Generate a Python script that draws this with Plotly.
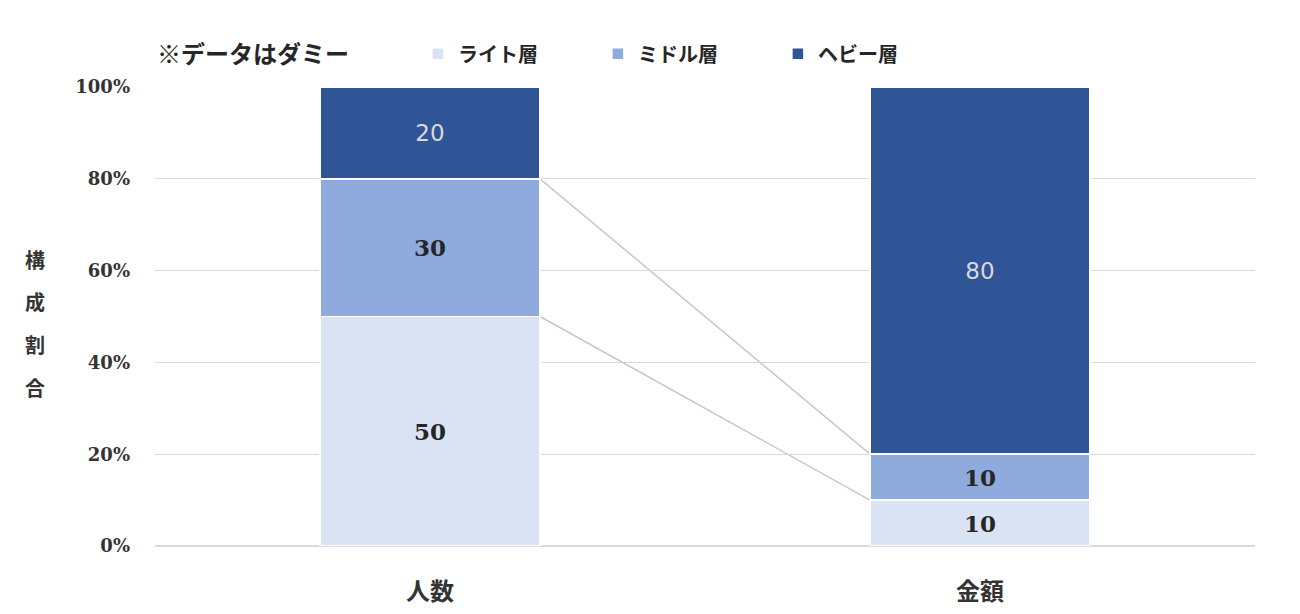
import plotly.graph_objects as go
import numpy as np

categories = ["人数", "金額"]
series_names = ["ライト層", "ミドル層", "ヘビー層"]
light = [50, 10]
middle = [30, 10]
heavy = [20, 80]
colors = ["#DAE3F3", "#8FAADC", "#2F5597"]
label_colors = ["#262626", "#262626", "#D9D9D9"]
y_ticks = [0, 20, 40, 60, 80, 100]
y_ticktext = ["0%", "20%", "40%", "60%", "80%", "100%"]
y_title_chars = ["構", "成", "割", "合"]

series = [light, middle, heavy]
BAR_W = 0.4

fig = go.Figure()
for name, vals, col, lc in zip(series_names, series, colors, label_colors):
    dark_text = lc != "#D9D9D9"
    fig.add_trace(go.Bar(
        x=categories, y=vals, name=name,
        marker=dict(color=col, line=dict(color="white", width=1.5)),
        width=BAR_W,
        text=[f"<b>{v}</b>" if dark_text else str(v) for v in vals],
        textposition="inside", insidetextanchor="middle",
        textfont=dict(size=23 if dark_text else 23, color=lc,
                      family="DejaVu Serif" if dark_text else "DejaVu Sans"),
        hoverinfo="skip",
    ))

# connector lines between the stacked segment tops
cum = np.cumsum(np.array(series), axis=0)
for level in cum[:-1]:
    fig.add_shape(type="line", xref="x", yref="y",
                  x0=0 + BAR_W / 2, y0=float(level[0]),
                  x1=1 - BAR_W / 2, y1=float(level[1]),
                  line=dict(color="#C8C8C8", width=1.5), layer="below")

annotations = [
    dict(text="<b>※データはダミー</b>", xref="paper", yref="paper",
         x=0.0, y=1.075, xanchor="left", yanchor="middle", showarrow=False,
         font=dict(size=24, color="#262626", family="Noto Sans CJK JP")),
]
for i, ch in enumerate(y_title_chars):
    annotations.append(dict(
        text=f"<b>{ch}</b>", xref="paper", yref="paper",
        x=-0.109, y=0.625 - i * 0.093, xanchor="center", yanchor="middle", showarrow=False,
        font=dict(size=20, color="#333333", family="Noto Sans CJK JP")))

fig.update_layout(
    width=1300, height=614,
    margin=dict(l=147, r=53, t=79, b=76),
    barmode="stack",
    plot_bgcolor="white", paper_bgcolor="white",
    font=dict(family="Noto Sans CJK JP", color="#404040"),
    legend=dict(orientation="h", x=0.239, xanchor="left", y=1.03, yanchor="bottom",
                font=dict(size=20, color="#262626", family="Noto Sans CJK JP", weight="bold"),
                traceorder="normal", itemwidth=30, entrywidth=135),
    xaxis=dict(range=[-0.5, 1.5], showgrid=False, showline=False, ticks="",
               tickfont=dict(size=24, color="#333333", family="Noto Sans CJK JP", weight="bold"),
               ticklabelstandoff=29),
    yaxis=dict(range=[0, 100], tickvals=y_ticks, ticktext=y_ticktext,
               showgrid=True, gridcolor="#D9D9D9", gridwidth=1,
               zeroline=True, zerolinecolor="#D9D9D9", showline=False,
               tickfont=dict(size=18, color="#333333", family="DejaVu Serif", weight="bold"),
               ticklabelstandoff=24),
    showlegend=True,
    annotations=annotations,
)
fig.write_html("out.html")
